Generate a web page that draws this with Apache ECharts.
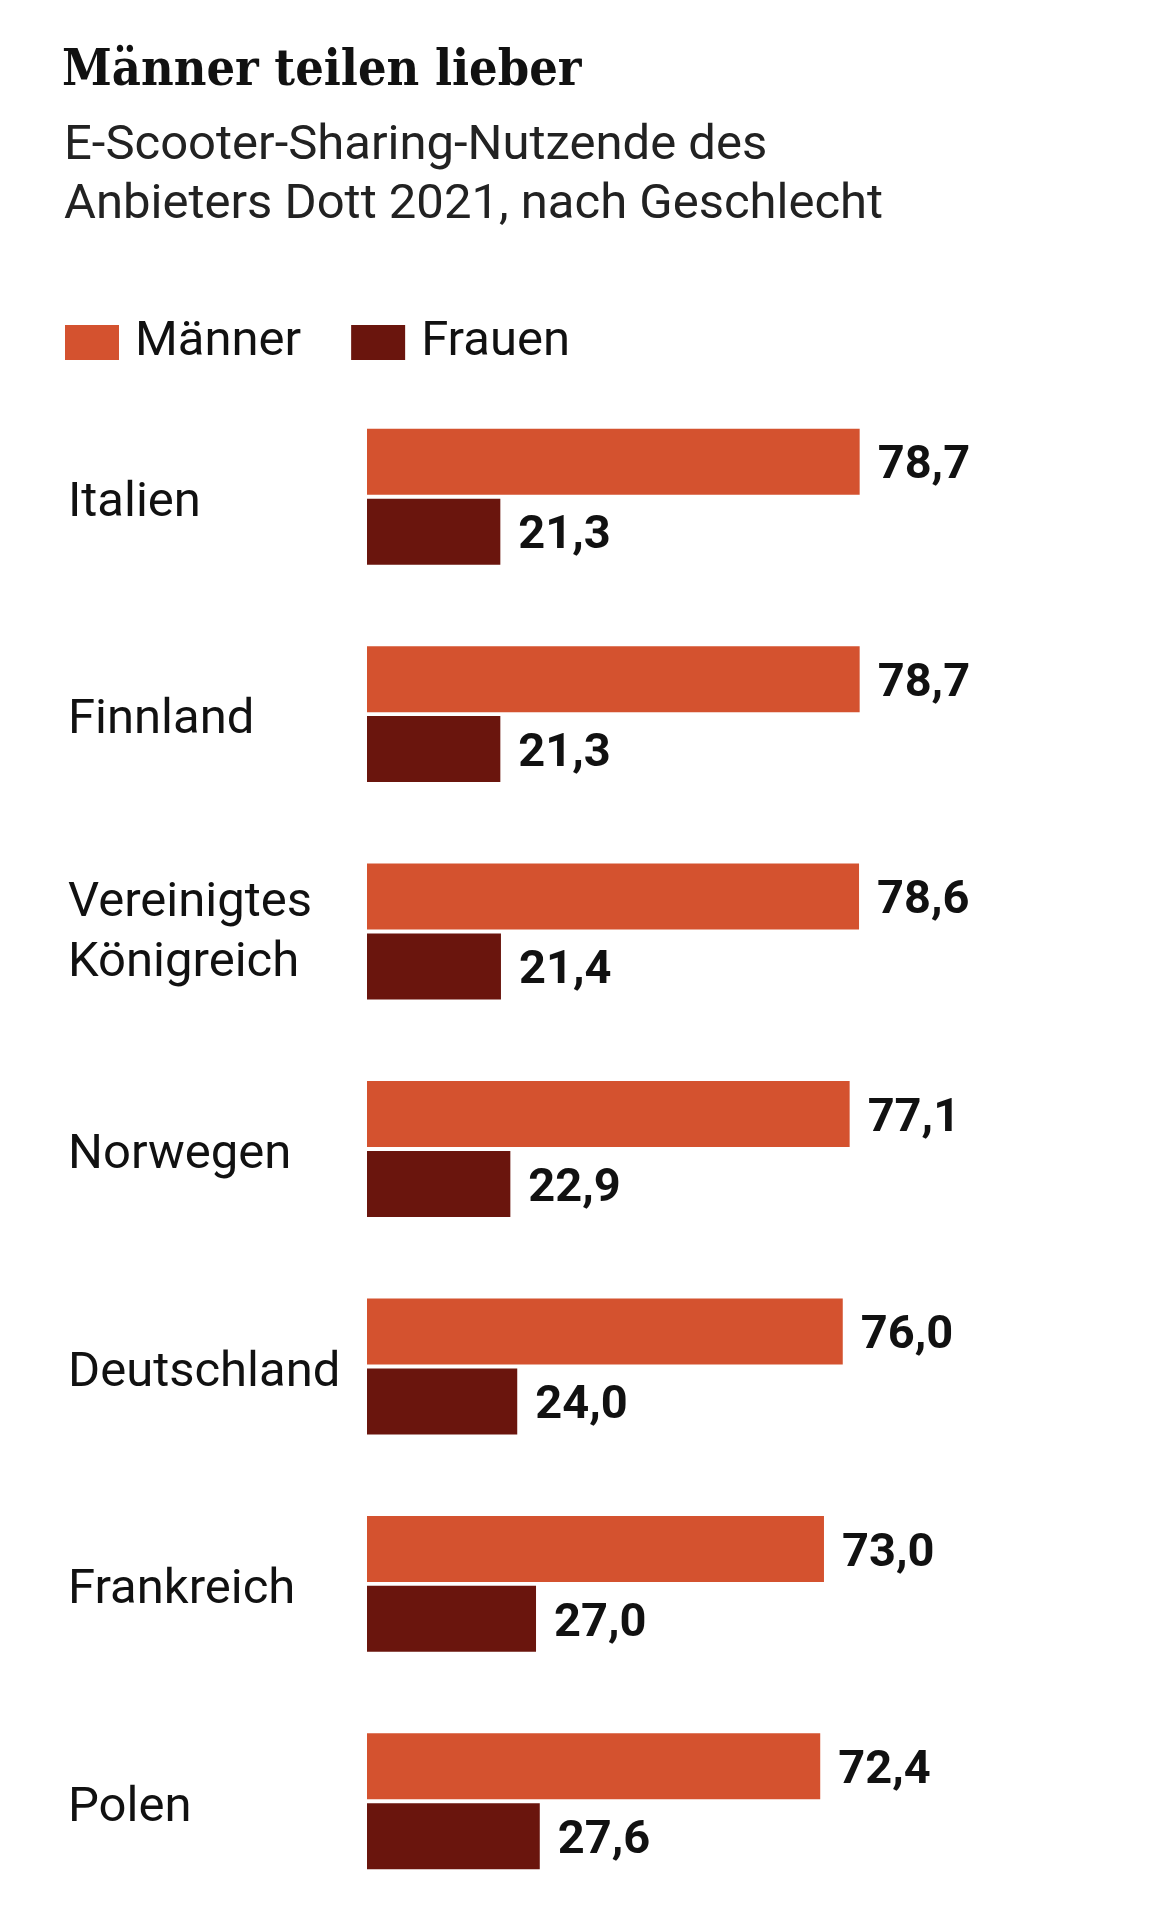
<!DOCTYPE html>
<html>
<head>
<meta charset="utf-8">
<script src="https://cdn.jsdelivr.net/npm/echarts@6/dist/echarts.min.js"></script>
<style>
  html, body { margin: 0; padding: 0; background: #fff; }
  #chart { width: 1155px; height: 1920px; }
</style>
</head>
<body>
<div id="chart"></div>
<script>
// Daten (Dott 2021, Anteil in %)
const countries = ["Italien", "Finnland", "Vereinigtes\nKönigreich", "Norwegen", "Deutschland", "Frankreich", "Polen"];
const maenner = [78.7, 78.7, 78.6, 77.1, 76.0, 73.0, 72.4];
const frauen = [21.3, 21.3, 21.4, 22.9, 24.0, 27.0, 27.6];

const sansFont = "Roboto, 'Noto Sans', sans-serif";
const fmt = (p) => p.value.toFixed(1).replace(".", ",");

const chart = echarts.init(document.getElementById("chart"));

const valueLabel = {
  show: true,
  position: "right",
  distance: 18,
  offset: [0, 5],
  formatter: fmt,
  color: "#111",
  fontFamily: sansFont,
  fontWeight: "bold",
  fontSize: 47
};

// einzeilige Labels etwas tiefer, zweizeilige mit normalem Zeilenabstand
const countryLabel = (v) => {
  const lines = v.split("\n");
  const key = lines.length > 1 ? "m" : "c";
  return lines.map((s) => "{" + key + "|" + s + "}").join("\n");
};

chart.setOption({
  animation: false,
  backgroundColor: "#fff",
  title: [
    {
      text: "Männer teilen lieber",
      left: 62,
      top: 47,
      padding: 0,
      textStyle: {
        fontFamily: "'DejaVu Serif Condensed', 'Liberation Serif', serif",
        fontWeight: "bold",
        fontSize: 50,
        color: "#111"
      }
    },
    {
      text: "E-Scooter-Sharing-Nutzende des\nAnbieters Dott 2021, nach Geschlecht",
      left: 64,
      top: 117,
      padding: 0,
      textStyle: {
        fontFamily: sansFont,
        fontWeight: "normal",
        fontSize: 49,
        lineHeight: 59,
        color: "#222"
      }
    }
  ],
  legend: {
    left: 65,
    top: 318,
    padding: 0,
    itemWidth: 54,
    itemHeight: 35,
    itemGap: 50,
    icon: "rect",
    textStyle: {
      fontFamily: sansFont,
      fontSize: 49,
      color: "#111",
      padding: [0, 0, 0, 11]
    },
    data: ["Männer", "Frauen"]
  },
  grid: {
    left: 367,
    top: 388,
    width: 626,
    height: 1522
  },
  xAxis: {
    type: "value",
    min: 0,
    max: 100,
    show: false
  },
  yAxis: {
    type: "category",
    inverse: true,
    data: countries,
    axisLine: { show: false },
    axisTick: { show: false },
    axisLabel: {
      align: "left",
      margin: 299,
      formatter: countryLabel,
      rich: {
        c: {
          fontFamily: sansFont,
          fontSize: 49,
          lineHeight: 45,
          padding: [14, 0, 0, 0],
          color: "#111"
        },
        m: {
          fontFamily: sansFont,
          fontSize: 49,
          lineHeight: 60,
          padding: [4, 0, 0, 0],
          color: "#111"
        }
      }
    }
  },
  series: [
    {
      name: "Männer",
      type: "bar",
      data: maenner,
      barWidth: 66,
      barGap: "6%",
      itemStyle: { color: "#D4522F" },
      label: valueLabel
    },
    {
      name: "Frauen",
      type: "bar",
      data: frauen,
      barWidth: 66,
      barGap: "6%",
      itemStyle: { color: "#6A150D" },
      label: valueLabel
    }
  ]
});
</script>
</body>
</html>
